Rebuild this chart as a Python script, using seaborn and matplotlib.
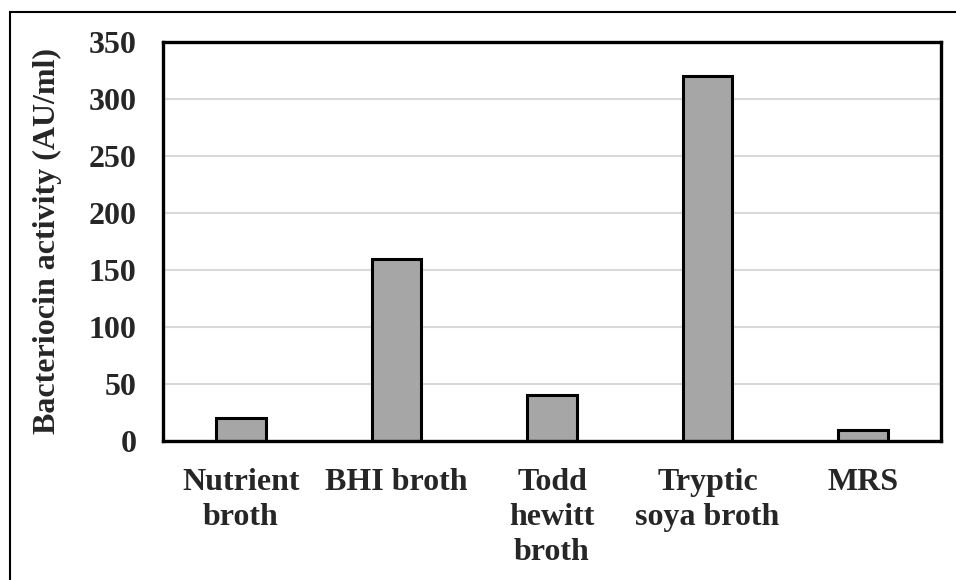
import matplotlib
matplotlib.use("Agg")
import matplotlib.pyplot as plt
import matplotlib.patches as mpatches
import pandas as pd
import seaborn as sns

categories = ["Nutrient\nbroth", "BHI broth", "Todd\nhewitt\nbroth", "Tryptic\nsoya broth", "MRS"]
activity = [20, 160, 40, 320, 10]
y_ticks = [0, 50, 100, 150, 200, 250, 300, 350]

df = pd.DataFrame({"medium": categories, "activity": activity})

sns.set_theme(style="white")
plt.rcParams["font.family"] = ["Liberation Serif", "DejaVu Serif"]
plt.rcParams["font.weight"] = "bold"

fig = plt.figure(figsize=(9.56, 5.8), dpi=100)
ax = fig.add_axes([163 / 956, 1 - 441 / 580, (941 - 163) / 956, (441 - 42) / 580])

sns.barplot(data=df, x="medium", y="activity", color="#a6a6a6", width=0.32,
            edgecolor="black", linewidth=2.2, saturation=1, ax=ax)

ax.set_ylim(0, 350)
ax.set_yticks(y_ticks)
ax.set_xlim(-0.5, len(categories) - 0.5)
ax.yaxis.grid(True, color="#d9d9d9", linewidth=1.5)
ax.set_axisbelow(True)
for spine in ax.spines.values():
    spine.set_color("black")
    spine.set_linewidth(2.4)
    spine.set_visible(True)

ax.tick_params(axis="both", length=0, labelsize=23)
ax.tick_params(axis="y", pad=19)
ax.tick_params(axis="x", pad=19.5)
for lbl in ax.get_xticklabels() + ax.get_yticklabels():
    lbl.set_fontweight("bold")
for lbl in ax.get_xticklabels():
    lbl.set_linespacing(1.27)
ax.set_xlabel("")
ax.set_ylabel("Bacteriocin activity (AU/ml)", fontsize=23, fontweight="bold", labelpad=19)

# outer border of the chart area
fig.patches.append(mpatches.Rectangle((10 / 956, -0.1), 1.2, 1 - 12 / 580 + 0.1,
                                      transform=fig.transFigure, fill=False,
                                      edgecolor="black", linewidth=1.5))

fig.savefig("out.png", dpi=100)
